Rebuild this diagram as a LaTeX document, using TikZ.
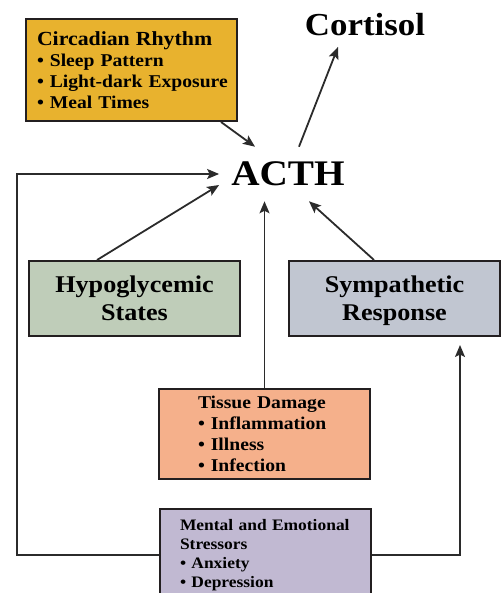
\documentclass[tikz,border=0pt]{standalone}
\usepackage{fontspec}
\setmainfont{Liberation Serif}[FakeStretch=1.09]
\usetikzlibrary{arrows.meta}
\definecolor{boxline}{HTML}{231F20}
\definecolor{arrline}{HTML}{2B2B2B}
\definecolor{circfill}{HTML}{E8B22E}
\definecolor{hypofill}{HTML}{BFCDB9}
\definecolor{sympfill}{HTML}{C1C6D1}
\definecolor{tissfill}{HTML}{F5B08B}
\definecolor{mentfill}{HTML}{C1B9D2}

\begin{document}
\begin{tikzpicture}[x=1pt, y=-1pt,
		box/.style={draw=boxline, line width=2pt, inner ysep=0pt},
		bigbox/.style={box, anchor=north west, minimum width=211pt, minimum height=75pt, text depth=0pt, align=center, font=\bfseries\fontsize{24}{28}\selectfont},
		arr/.style={draw=arrline, line width=1.8pt, -{Stealth[length=12pt, width=10pt, inset=2.5pt]}}]
			\useasboundingbox (0, 0) rectangle (503, 593);
			\node[box, fill=circfill, anchor=north west, text width=189pt, inner xsep=11pt, minimum height=102pt, align=left, font=\bfseries\fontsize{18}{21}\selectfont] (circ) at (25, 18)
				{{\fontsize{20}{21}\selectfont Circadian Rhythm}\\ • Sleep Pattern\\ \mbox{• Light-dark Exposure}\\ • Meal Times};
			\node[font=\bfseries\fontsize{32}{36}\selectfont, inner sep=11pt] (cort) at (365, 24.5) {Cortisol};
			\node[font=\bfseries\fontsize{36}{40}\selectfont, inner xsep=12pt, inner ysep=15pt] (acth) at (288, 174) {ACTH};
			\node[bigbox, fill=hypofill] (hypo) at (28, 260) {Hypoglycemic\\States};
			\node[bigbox, fill=sympfill] (symp) at (288, 260) {Sympathetic\\Response};
			\node[box, fill=tissfill, anchor=north west, text width=133pt, inner xsep=39pt, minimum height=90pt, align=left, font=\bfseries\fontsize{18}{21}\selectfont] (tiss) at (158, 388)
				{Tissue Damage\\ • Inflammation\\ • Illness\\ • Infection};
			\node[box, fill=mentfill, anchor=north west, text width=171pt, inner xsep=20pt, inner ysep=10pt, align=left, font=\bfseries\fontsize{16}{19}\selectfont] (ment) at (159, 508)
				{Mental and Emotional\\Stressors\\ • Anxiety\\ • Depression};
			\coordinate (lp) at (17, 172);
			\coordinate (rp) at ([xshift=65.5pt, yshift=-8pt]symp.south);
			\draw[arr] ([xshift=-17pt]circ.south east) -- ([xshift=-33pt]acth.north);
			\draw[arr] ([xshift=11pt]acth.north) -- ([xshift=-27pt]cort.south);
			\draw[arr] ([xshift=-37.5pt]hypo.north) -- ([yshift=-11pt]acth.west);
			\draw[arr] ([xshift=-20.5pt]symp.north) -- ([xshift=21pt]acth.south);
			\draw[arr] (tiss.north) -- (tiss.north |- acth.south);
			\draw[arr] (ment.west) -- (ment.west -| lp) |- (acth.west);
			\draw[arr] (ment.east) -| (rp);
		\end{tikzpicture}
\end{document}
